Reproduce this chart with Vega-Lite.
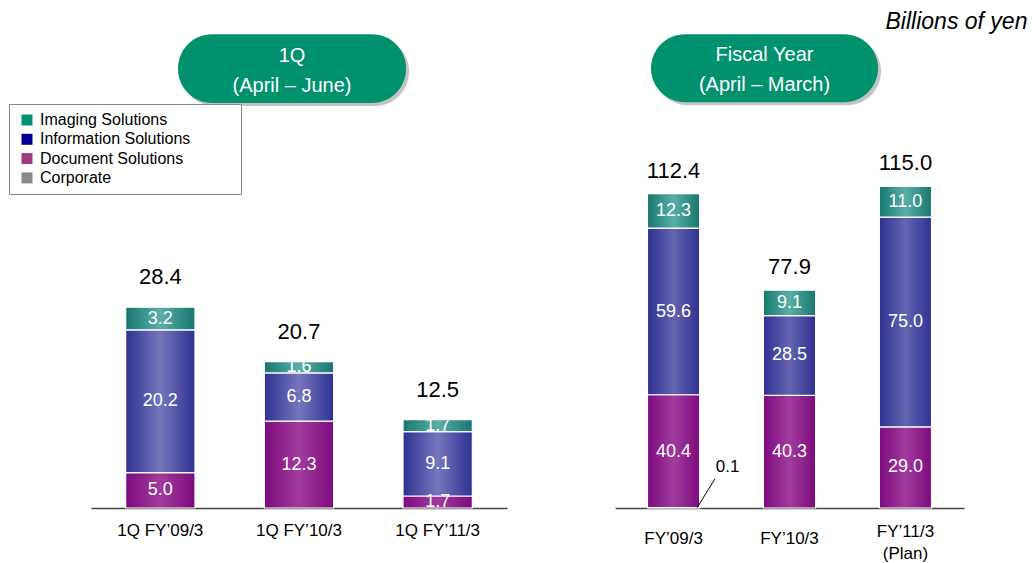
{
  "$schema": "https://vega.github.io/schema/vega-lite/v6.json",
  "padding": {"left": 8, "top": 10, "right": 4, "bottom": 2},
  "config": {"font": "Liberation Sans", "view": {"stroke": null}, "axisY": {"disable": true}},
  "datasets": {
    "q": [
      {"period": "1Q FY’09/3", "seg": "Document Solutions", "ord": 1, "value": 5.0},
      {"period": "1Q FY’09/3", "seg": "Information Solutions", "ord": 2, "value": 20.2},
      {"period": "1Q FY’09/3", "seg": "Imaging Solutions", "ord": 3, "value": 3.2},
      {"period": "1Q FY’10/3", "seg": "Document Solutions", "ord": 1, "value": 12.3},
      {"period": "1Q FY’10/3", "seg": "Information Solutions", "ord": 2, "value": 6.8},
      {"period": "1Q FY’10/3", "seg": "Imaging Solutions", "ord": 3, "value": 1.6},
      {"period": "1Q FY’11/3", "seg": "Document Solutions", "ord": 1, "value": 1.7},
      {"period": "1Q FY’11/3", "seg": "Information Solutions", "ord": 2, "value": 9.1},
      {"period": "1Q FY’11/3", "seg": "Imaging Solutions", "ord": 3, "value": 1.7}
    ],
    "fy": [
      {"period": "FY’09/3", "seg": "Corporate", "ord": 0, "value": 0.1},
      {"period": "FY’09/3", "seg": "Document Solutions", "ord": 1, "value": 40.4},
      {"period": "FY’09/3", "seg": "Information Solutions", "ord": 2, "value": 59.6},
      {"period": "FY’09/3", "seg": "Imaging Solutions", "ord": 3, "value": 12.3},
      {"period": "FY’10/3", "seg": "Document Solutions", "ord": 1, "value": 40.3},
      {"period": "FY’10/3", "seg": "Information Solutions", "ord": 2, "value": 28.5},
      {"period": "FY’10/3", "seg": "Imaging Solutions", "ord": 3, "value": 9.1},
      {"period": "FY’11/3\n(Plan)", "seg": "Document Solutions", "ord": 1, "value": 29.0},
      {"period": "FY’11/3\n(Plan)", "seg": "Information Solutions", "ord": 2, "value": 75.0},
      {"period": "FY’11/3\n(Plan)", "seg": "Imaging Solutions", "ord": 3, "value": 11.0}
    ]
  },
  "spacing": 108,
  "resolve": {"legend": {"color": "independent"}, "scale": {"y": "independent"}},
  "hconcat": [
    {
      "width": 416,
      "height": 497,
      "layer": [
        {
          "data": {"values": [{"header": "1Q\n(April – June)"}]},
          "mark": {"type": "bar", "width": 228, "xOffset": -4, "yOffset": 3, "y2Offset": 3, "cornerRadius": 34, "color": "#c4c4c4"},
          "encoding": {
            "x": {"datum": "1Q FY’10/3", "type": "nominal"},
            "y": {"datum": 67.0, "type": "quantitative", "axis": null},
            "y2": {"datum": 57.3}
          }
        },
        {
          "data": {"values": [{"header": "1Q\n(April – June)"}]},
          "mark": {"type": "bar", "width": 228, "xOffset": -7, "cornerRadius": 34, "color": "#00916e"},
          "encoding": {
            "x": {"datum": "1Q FY’10/3", "type": "nominal"},
            "y": {"datum": 67.0, "type": "quantitative", "axis": null},
            "y2": {"datum": 57.3}
          }
        },
        {
          "data": {"values": [{"header": "1Q\n(April – June)"}]},
          "mark": {"type": "text", "xOffset": -7, "fontSize": 20, "color": "white", "lineBreak": "\n", "lineHeight": 30, "baseline": "middle", "align": "center"},
          "encoding": {
            "x": {"datum": "1Q FY’10/3", "type": "nominal"},
            "y": {"datum": 64.0, "type": "quantitative", "axis": null},
            "text": {"field": "header"}
          }
        },
        {
          "data": {"name": "q"},
          "mark": {"type": "bar", "stroke": "white", "strokeWidth": 1.2},
          "encoding": {
            "x": {"field": "period", "type": "nominal", "sort": null,
              "scale": {"domain": ["1Q FY’09/3", "1Q FY’10/3", "1Q FY’11/3"], "paddingInner": 0.5, "paddingOuter": 0.25},
              "axis": {"title": null, "ticks": false, "domainColor": "#444", "domainWidth": 1.5, "labelFontSize": 17, "labelColor": "#000", "labelPadding": 22, "labelBaseline": "middle", "labelAlign": "center", "labelAngle": 0, "labelLineHeight": 22, "labelExpr": "split(datum.label, '\\n')"}},
            "y": {"field": "value", "type": "quantitative", "stack": "zero", "scale": {"domain": [0, 70.3], "nice": false}, "axis": null},
            "order": {"field": "ord", "type": "quantitative"},
            "color": {
              "field": "seg", "type": "nominal",
              "scale": {"domain": ["Imaging Solutions", "Information Solutions", "Document Solutions", "Corporate"], "range": ["#00916e", "#000099", "#9c3c7f", "#888888"]},
              "legend": {"orient": "none", "legendX": -82, "legendY": 93, "title": "MMM", "titleOrient": "right", "titleOpacity": 0, "titleFontSize": 16, "titlePadding": 3, "symbolType": "square", "symbolSize": 121, "symbolStrokeWidth": 0, "labelFontSize": 16, "labelColor": "#000", "padding": 8, "strokeColor": "#888888", "fillColor": "white", "rowPadding": 3.3, "labelOffset": 5, "symbolOffset": 2, "labelLimit": 400},
              "condition": [
                {"test": "datum.seg === 'Imaging Solutions'", "value": {"gradient": "linear", "x1": 0, "x2": 1, "y1": 0, "y2": 0, "stops": [{"offset": 0, "color": "#16776f"}, {"offset": 0.5, "color": "#5aaea8"}, {"offset": 1, "color": "#16776f"}]}},
                {"test": "datum.seg === 'Information Solutions'", "value": {"gradient": "linear", "x1": 0, "x2": 1, "y1": 0, "y2": 0, "stops": [{"offset": 0, "color": "#2f3092"}, {"offset": 0.5, "color": "#7676bd"}, {"offset": 1, "color": "#2f3092"}]}},
                {"test": "datum.seg === 'Document Solutions'", "value": {"gradient": "linear", "x1": 0, "x2": 1, "y1": 0, "y2": 0, "stops": [{"offset": 0, "color": "#7d0a7d"}, {"offset": 0.5, "color": "#a03c9c"}, {"offset": 1, "color": "#7d0a7d"}]}}
              ]
            }
          }
        },
        {
          "data": {"name": "q"},
          "mark": {"type": "text", "color": "white", "fontSize": 18, "baseline": "middle"},
          "encoding": {
            "x": {"field": "period", "type": "nominal", "sort": null},
            "y": {"field": "value", "type": "quantitative", "stack": "zero", "bandPosition": 0.5, "axis": null},
            "order": {"field": "ord", "type": "quantitative"},
            "detail": {"field": "seg"},
            "text": {"field": "value", "type": "quantitative", "format": ".1f"}
          }
        },
        {
          "data": {"name": "q"},
          "transform": [{"aggregate": [{"op": "sum", "field": "value", "as": "total"}], "groupby": ["period"]}],
          "mark": {"type": "text", "color": "black", "fontSize": 22, "baseline": "alphabetic", "dy": -23},
          "encoding": {
            "x": {"field": "period", "type": "nominal", "sort": null},
            "y": {"field": "total", "type": "quantitative", "axis": null},
            "text": {"field": "total", "type": "quantitative", "format": ".1f"}
          }
        }
      ]
    },
    {
      "width": 349,
      "height": 497,
      "layer": [
        {
          "data": {"values": [{"header": "Fiscal Year\n(April – March)"}]},
          "mark": {"type": "bar", "width": 227, "xOffset": -22, "yOffset": 3, "y2Offset": 3, "cornerRadius": 34, "color": "#c4c4c4"},
          "encoding": {
            "x": {"datum": "FY’10/3", "type": "nominal"},
            "y": {"datum": 169.4, "type": "quantitative", "axis": null},
            "y2": {"datum": 145.1}
          }
        },
        {
          "data": {"values": [{"header": "Fiscal Year\n(April – March)"}]},
          "mark": {"type": "bar", "width": 227, "xOffset": -25, "cornerRadius": 34, "color": "#00916e"},
          "encoding": {
            "x": {"datum": "FY’10/3", "type": "nominal"},
            "y": {"datum": 169.4, "type": "quantitative", "axis": null},
            "y2": {"datum": 145.1}
          }
        },
        {
          "data": {"values": [{"header": "Fiscal Year\n(April – March)"}]},
          "mark": {"type": "text", "xOffset": -25, "fontSize": 20, "color": "white", "lineBreak": "\n", "lineHeight": 30, "baseline": "middle", "align": "center"},
          "encoding": {
            "x": {"datum": "FY’10/3", "type": "nominal"},
            "y": {"datum": 162.0, "type": "quantitative", "axis": null},
            "text": {"field": "header"}
          }
        },
        {
          "data": {"values": [{"unit": "Billions of yen"}]},
          "mark": {"type": "text", "xOffset": 122, "fontSize": 23, "fontStyle": "italic", "color": "black", "align": "right", "baseline": "alphabetic"},
          "encoding": {
            "x": {"datum": "FY’11/3\n(Plan)", "type": "nominal"},
            "y": {"datum": 171.3, "type": "quantitative", "axis": null},
            "text": {"field": "unit"}
          }
        },
        {
          "data": {"name": "fy"},
          "mark": {"type": "bar", "stroke": "white", "strokeWidth": 1.2},
          "encoding": {
            "x": {"field": "period", "type": "nominal", "sort": null,
              "scale": {"domain": ["FY’09/3", "FY’10/3", "FY’11/3\n(Plan)"], "paddingInner": 0.55, "paddingOuter": 0.28},
              "axis": {"title": null, "ticks": false, "domainColor": "#444", "domainWidth": 1.5, "labelFontSize": 17, "labelColor": "#000",
                "labelPadding": {"condition": {"test": "indexof(datum.value, '(Plan)') >= 0", "value": 23}, "value": 30},
                "labelBaseline": "middle", "labelAlign": "center", "labelAngle": 0, "labelLineHeight": 22, "labelExpr": "split(datum.label, '\\n')"}},
            "y": {"field": "value", "type": "quantitative", "stack": "zero", "scale": {"domain": [0, 177.7], "nice": false}, "axis": null},
            "order": {"field": "ord", "type": "quantitative"},
            "color": {
              "field": "seg", "type": "nominal",
              "scale": {"domain": ["Imaging Solutions", "Information Solutions", "Document Solutions", "Corporate"], "range": ["#00916e", "#000099", "#9c3c7f", "#888888"]},
              "legend": null,
              "condition": [
                {"test": "datum.seg === 'Imaging Solutions'", "value": {"gradient": "linear", "x1": 0, "x2": 1, "y1": 0, "y2": 0, "stops": [{"offset": 0, "color": "#16776f"}, {"offset": 0.5, "color": "#5aaea8"}, {"offset": 1, "color": "#16776f"}]}},
                {"test": "datum.seg === 'Information Solutions'", "value": {"gradient": "linear", "x1": 0, "x2": 1, "y1": 0, "y2": 0, "stops": [{"offset": 0, "color": "#2f3092"}, {"offset": 0.5, "color": "#6464b0"}, {"offset": 1, "color": "#2f3092"}]}},
                {"test": "datum.seg === 'Document Solutions'", "value": {"gradient": "linear", "x1": 0, "x2": 1, "y1": 0, "y2": 0, "stops": [{"offset": 0, "color": "#7d0a7d"}, {"offset": 0.5, "color": "#a03c9c"}, {"offset": 1, "color": "#7d0a7d"}]}}
              ]
            }
          }
        },
        {
          "data": {"name": "fy"},
          "transform": [{"filter": "datum.seg !== 'Corporate'"}],
          "mark": {"type": "text", "color": "white", "fontSize": 18, "baseline": "middle"},
          "encoding": {
            "x": {"field": "period", "type": "nominal", "sort": null},
            "y": {"field": "value", "type": "quantitative", "stack": "zero", "bandPosition": 0.5, "axis": null},
            "order": {"field": "ord", "type": "quantitative"},
            "detail": {"field": "seg"},
            "text": {"field": "value", "type": "quantitative", "format": ".1f"}
          }
        },
        {
          "data": {"name": "fy"},
          "transform": [{"aggregate": [{"op": "sum", "field": "value", "as": "total"}], "groupby": ["period"]}],
          "mark": {"type": "text", "color": "black", "fontSize": 22, "baseline": "alphabetic", "dy": -16},
          "encoding": {
            "x": {"field": "period", "type": "nominal", "sort": null},
            "y": {"field": "total", "type": "quantitative", "axis": null},
            "text": {"field": "total", "type": "quantitative", "format": ".1f"}
          }
        },
        {
          "data": {"name": "fy"},
          "transform": [{"filter": "datum.seg === 'Corporate'"}],
          "mark": {"type": "rule", "color": "black", "strokeWidth": 1, "xOffset": 23.5, "x2Offset": 41.5, "y2Offset": -29},
          "encoding": {
            "x": {"field": "period", "type": "nominal", "sort": null},
            "x2": {"field": "period"},
            "y": {"field": "value", "type": "quantitative", "axis": null},
            "y2": {"field": "value"}
          }
        },
        {
          "data": {"name": "fy"},
          "transform": [{"filter": "datum.seg === 'Corporate'"}],
          "mark": {"type": "text", "color": "black", "fontSize": 17, "baseline": "middle", "align": "center", "dx": 54, "dy": -41},
          "encoding": {
            "x": {"field": "period", "type": "nominal", "sort": null},
            "y": {"field": "value", "type": "quantitative", "axis": null},
            "text": {"field": "value", "type": "quantitative", "format": ".1f"}
          }
        }
      ]
    }
  ]
}
